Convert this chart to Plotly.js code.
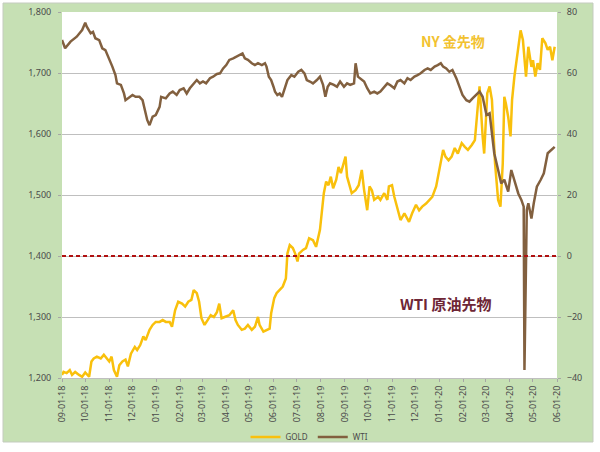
<!DOCTYPE html>
<html>
<head>
<meta charset="utf-8">
<script src="https://cdn.plot.ly/plotly-3.0.1.min.js"></script>
<style>html,body{margin:0;padding:0;background:#fff;}#chart{width:600px;height:452px;}</style>
</head>
<body>
<div id="chart"></div>
<script>
const monthTicks = ['2018-09-01','2018-10-01','2018-11-01','2018-12-01','2019-01-01','2019-02-01','2019-03-01','2019-04-01','2019-05-01','2019-06-01','2019-07-01','2019-08-01','2019-09-01','2019-10-01','2019-11-01','2019-12-01','2020-01-01','2020-02-01','2020-03-01','2020-04-01','2020-05-01','2020-06-01'];

const goldDates = ['2018-09-01','2018-09-03','2018-09-07','2018-09-11','2018-09-14','2018-09-18','2018-09-23','2018-09-27','2018-10-01','2018-10-06','2018-10-09','2018-10-12','2018-10-16','2018-10-21','2018-10-25','2018-10-29','2018-11-01','2018-11-04','2018-11-07','2018-11-11','2018-11-14','2018-11-18','2018-11-22','2018-11-25','2018-11-29','2018-12-04','2018-12-07','2018-12-11','2018-12-15','2018-12-18','2018-12-23','2018-12-27','2018-12-31','2019-01-05','2019-01-09','2019-01-13','2019-01-18','2019-01-21','2019-01-25','2019-01-29','2019-02-03','2019-02-07','2019-02-11','2019-02-15','2019-02-18','2019-02-22','2019-02-25','2019-02-28','2019-03-04','2019-03-08','2019-03-12','2019-03-16','2019-03-20','2019-03-23','2019-03-26','2019-03-30','2019-04-05','2019-04-10','2019-04-13','2019-04-16','2019-04-21','2019-04-25','2019-04-29','2019-05-04','2019-05-08','2019-05-12','2019-05-14','2019-05-19','2019-05-23','2019-05-27','2019-05-29','2019-06-02','2019-06-05','2019-06-09','2019-06-13','2019-06-17','2019-06-19','2019-06-22','2019-06-26','2019-06-29','2019-07-02','2019-07-04','2019-07-09','2019-07-13','2019-07-17','2019-07-22','2019-07-26','2019-07-31','2019-08-02','2019-08-05','2019-08-08','2019-08-11','2019-08-14','2019-08-17','2019-08-21','2019-08-24','2019-08-27','2019-08-31','2019-09-02','2019-09-04','2019-09-07','2019-09-10','2019-09-15','2019-09-19','2019-09-23','2019-09-26','2019-09-30','2019-10-03','2019-10-06','2019-10-09','2019-10-14','2019-10-17','2019-10-22','2019-10-26','2019-10-28','2019-11-01','2019-11-04','2019-11-08','2019-11-12','2019-11-17','2019-11-20','2019-11-23','2019-11-27','2019-12-02','2019-12-06','2019-12-10','2019-12-15','2019-12-19','2019-12-23','2019-12-28','2020-01-02','2020-01-06','2020-01-09','2020-01-13','2020-01-17','2020-01-21','2020-01-25','2020-01-30','2020-02-03','2020-02-07','2020-02-12','2020-02-16','2020-02-19','2020-02-22','2020-02-26','2020-02-28','2020-03-03','2020-03-06','2020-03-09','2020-03-11','2020-03-13','2020-03-17','2020-03-20','2020-03-23','2020-03-25','2020-03-27','2020-03-30','2020-04-02','2020-04-04','2020-04-07','2020-04-12','2020-04-15','2020-04-18','2020-04-22','2020-04-25','2020-04-29','2020-05-01','2020-05-04','2020-05-07','2020-05-10','2020-05-13','2020-05-17','2020-05-20','2020-05-23','2020-05-26','2020-05-29'];
const goldValues = [1205,1210,1208,1213,1205,1210,1205,1202,1209,1202,1227,1232,1235,1232,1238,1232,1227,1235,1213,1202,1221,1227,1230,1219,1240,1251,1246,1254,1268,1262,1279,1287,1292,1292,1295,1292,1292,1284,1311,1325,1322,1317,1325,1328,1344,1339,1325,1298,1287,1295,1303,1300,1308,1322,1298,1300,1303,1311,1295,1287,1279,1281,1287,1279,1284,1300,1287,1276,1279,1281,1306,1331,1339,1344,1350,1363,1404,1418,1413,1404,1391,1404,1410,1413,1429,1426,1415,1443,1464,1503,1522,1516,1530,1511,1525,1546,1536,1552,1563,1530,1514,1503,1508,1516,1541,1508,1475,1514,1508,1492,1497,1492,1503,1492,1514,1516,1497,1478,1459,1470,1464,1456,1470,1484,1475,1481,1486,1492,1497,1514,1546,1574,1563,1557,1563,1577,1568,1585,1579,1574,1582,1590,1634,1678,1596,1568,1667,1678,1656,1601,1552,1492,1481,1552,1661,1650,1628,1596,1656,1694,1743,1770,1754,1694,1743,1710,1721,1694,1716,1705,1757,1749,1738,1743,1721,1743];

const wtiDates = ['2018-09-01','2018-09-05','2018-09-12','2018-09-20','2018-09-27','2018-10-01','2018-10-03','2018-10-08','2018-10-11','2018-10-14','2018-10-19','2018-10-23','2018-10-27','2018-11-01','2018-11-05','2018-11-09','2018-11-11','2018-11-16','2018-11-20','2018-11-22','2018-11-27','2018-12-01','2018-12-05','2018-12-10','2018-12-14','2018-12-16','2018-12-20','2018-12-23','2018-12-27','2018-12-31','2019-01-05','2019-01-07','2019-01-13','2019-01-18','2019-01-22','2019-01-27','2019-01-31','2019-02-05','2019-02-09','2019-02-13','2019-02-17','2019-02-22','2019-02-26','2019-03-02','2019-03-06','2019-03-11','2019-03-15','2019-03-20','2019-03-24','2019-03-28','2019-04-01','2019-04-05','2019-04-10','2019-04-14','2019-04-18','2019-04-22','2019-04-25','2019-04-29','2019-05-04','2019-05-08','2019-05-12','2019-05-17','2019-05-21','2019-05-23','2019-05-26','2019-05-29','2019-06-01','2019-06-03','2019-06-06','2019-06-09','2019-06-12','2019-06-15','2019-06-19','2019-06-24','2019-06-28','2019-07-03','2019-07-07','2019-07-11','2019-07-14','2019-07-18','2019-07-22','2019-07-27','2019-07-31','2019-08-04','2019-08-07','2019-08-10','2019-08-13','2019-08-18','2019-08-22','2019-08-26','2019-08-31','2019-09-04','2019-09-08','2019-09-13','2019-09-15','2019-09-18','2019-09-21','2019-09-26','2019-09-30','2019-10-04','2019-10-09','2019-10-13','2019-10-17','2019-10-22','2019-10-26','2019-10-30','2019-11-04','2019-11-08','2019-11-12','2019-11-17','2019-11-21','2019-11-25','2019-11-30','2019-12-04','2019-12-08','2019-12-13','2019-12-17','2019-12-21','2019-12-26','2019-12-30','2020-01-03','2020-01-06','2020-01-10','2020-01-14','2020-01-18','2020-01-23','2020-01-27','2020-01-31','2020-02-05','2020-02-09','2020-02-13','2020-02-18','2020-02-22','2020-02-26','2020-03-02','2020-03-06','2020-03-09','2020-03-12','2020-03-17','2020-03-21','2020-03-25','2020-03-30','2020-04-03','2020-04-07','2020-04-12','2020-04-16','2020-04-19','2020-04-20','2020-04-23','2020-04-25','2020-04-29','2020-05-02','2020-05-06','2020-05-11','2020-05-15','2020-05-20','2020-05-24','2020-05-29'];
const wtiValues = [70.8,68.1,70.3,71.9,74.1,76.5,75.2,73.0,73.5,71.4,70.8,68.1,67.5,64.8,62.1,59.3,56.6,56.1,53.3,51.1,52.2,52.8,52.2,52.2,51.1,48.9,44.6,42.9,45.7,46.2,48.9,52.2,51.7,53.3,53.9,52.8,54.4,55.0,53.3,55.0,56.1,57.7,56.6,57.2,56.6,58.3,58.8,59.7,59.9,61.5,62.6,64.3,64.8,65.3,65.9,66.4,64.8,64.3,63.2,62.6,63.2,62.6,63.2,62.1,58.8,57.7,55.5,53.9,52.8,53.3,52.2,54.4,57.7,59.3,58.8,60.4,61.0,59.9,57.7,57.2,56.6,57.7,58.8,56.1,52.2,55.5,56.6,56.1,55.5,57.2,55.5,56.6,56.1,56.6,63.2,58.8,58.3,57.2,55.0,53.3,53.9,53.3,53.9,55.5,56.6,56.0,55.0,57.2,57.7,56.6,58.3,57.7,58.8,59.3,59.9,61.0,61.5,61.0,62.1,62.6,63.2,62.1,61.5,60.4,61.0,58.3,55.5,52.8,51.1,50.6,51.7,52.8,53.9,52.2,46.2,46.8,40.2,33.7,28.2,23.8,25.0,21.1,28.2,25.0,20.5,18.4,16.2,-37.4,15.1,17.3,12.3,17.3,22.7,25.0,27.1,33.7,34.7,35.8];

const seriesNames = ['GOLD', 'WTI'];
const leftTicks = [1200, 1300, 1400, 1500, 1600, 1700, 1800];
const rightTicks = [-40, -20, 0, 20, 40, 60, 80];
const labelGold = 'NY 金先物';
const labelWti = 'WTI 原油先物';
const zeroLineGold = 1400;

const tickFont = {family: 'Noto Sans, DejaVu Sans, sans-serif', size: 9, color: '#4a4a4a'};

const traces = [
  {x: goldDates, y: goldValues, name: seriesNames[0], type: 'scatter', mode: 'lines',
   line: {color: '#F9C00C', width: 2.5}, yaxis: 'y'},
  {x: wtiDates, y: wtiValues, name: seriesNames[1], type: 'scatter', mode: 'lines',
   line: {color: '#82603F', width: 2.5}, yaxis: 'y2'}
];

// pixel helpers for paper coords (plot area 62..557 x, 12..378 y)
function px(p){ return (p - 62) / 495; }
function py(p){ return (378 - p) / 366; }

const frameL = px(3), frameR = px(593), frameT = py(3), frameB = py(442);
const holeL = px(62), holeR = px(557), holeT = py(12), holeB = py(378);
const framePath = 'M' + frameL + ',' + frameB + ' L' + frameR + ',' + frameB + ' L' + frameR + ',' + frameT + ' L' + frameL + ',' + frameT + ' Z ' +
                  'M' + holeL + ',' + holeB + ' L' + holeR + ',' + holeB + ' L' + holeR + ',' + holeT + ' L' + holeL + ',' + holeT + ' Z';

const layout = {
  width: 600, height: 452,
  margin: {l: 62, r: 43, t: 12, b: 74},
  paper_bgcolor: '#FFFFFF',
  plot_bgcolor: '#FFFFFF',
  showlegend: true,
  legend: {orientation: 'h', x: 0.5, xanchor: 'center', yref: 'container', y: 1 - 437/452, yanchor: 'middle',
           font: {family: 'Noto Sans, sans-serif', size: 8, color: '#4a4a4a'},
           bgcolor: 'rgba(0,0,0,0)', itemwidth: 30, tracegroupgap: 0},
  xaxis: {type: 'date', range: ['2018-09-01', '2020-06-01'], tickvals: monthTicks,
          tickformat: '%m-%d-%y', tickangle: -90, tickfont: tickFont, automargin: false,
          ticks: 'outside', ticklen: 3, tickcolor: '#a6a6a6',
          showgrid: false, zeroline: false, showline: true, linecolor: '#bfbfbf', linewidth: 1},
  yaxis: {range: [1200, 1800], tickvals: leftTicks, tickformat: ',d', tickfont: tickFont, automargin: false,
          ticks: 'outside', ticklen: 3, tickcolor: '#a6a6a6', ticklabelstandoff: 5,
          showgrid: true, gridcolor: '#BFBFBF', gridwidth: 1, zeroline: false, showline: false},
  yaxis2: {range: [-40, 80], tickvals: rightTicks, overlaying: 'y', side: 'right', tickfont: tickFont, automargin: false,
           ticks: 'outside', ticklen: 3, tickcolor: '#a6a6a6', ticklabelstandoff: 4,
           showgrid: false, zeroline: false, showline: false},
  shapes: [
    {type: 'path', xref: 'paper', yref: 'paper', path: framePath, fillrule: 'evenodd',
     fillcolor: '#C6E0B4', line: {width: 0}, layer: 'below'},
    {type: 'rect', xref: 'paper', yref: 'paper', x0: frameL, x1: frameR, y0: frameB, y1: frameT,
     line: {color: '#C4CBBF', width: 1}, fillcolor: 'rgba(0,0,0,0)', layer: 'below'},
    {type: 'line', xref: 'paper', x0: 0, x1: 1, yref: 'y', y0: zeroLineGold, y1: zeroLineGold,
     line: {color: '#B01010', width: 2, dash: '4px,3px'}, layer: 'above'}
  ],
  annotations: [
    {text: '<b>' + labelGold + '</b>', xref: 'paper', yref: 'paper', x: px(453), y: py(41),
     showarrow: false, xanchor: 'center', yanchor: 'middle',
     font: {family: 'Noto Sans CJK JP, sans-serif', size: 14, color: '#F2C230'}},
    {text: '<b>' + labelWti + '</b>', xref: 'paper', yref: 'paper', x: px(445), y: py(303),
     showarrow: false, xanchor: 'center', yanchor: 'middle',
     font: {family: 'Noto Sans CJK JP, sans-serif', size: 15, color: '#6E2636'}}
  ]
};

Plotly.newPlot('chart', traces, layout, {staticPlot: true, displayModeBar: false});
</script>
</body>
</html>
